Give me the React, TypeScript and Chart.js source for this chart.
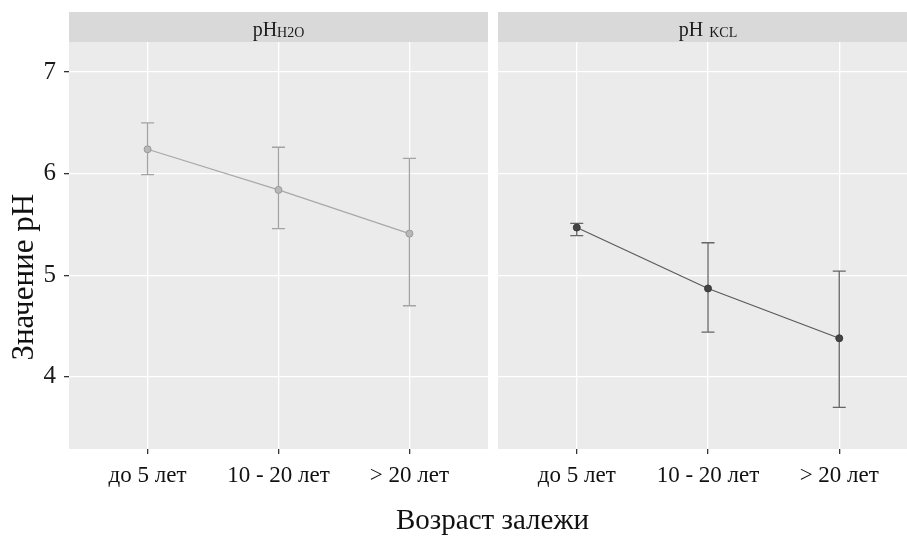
import React, { useEffect, useRef } from 'react';
import { Chart, registerables } from 'chart.js';

Chart.register(...registerables);

// ---- data ----
const categories = ['до 5 лет', '10 - 20 лет', '> 20 лет'];
const yTickValues = [4, 5, 6, 7];

const h2oMean = [6.24, 5.84, 5.41];
const h2oLower = [5.99, 5.46, 4.7];
const h2oUpper = [6.5, 6.26, 6.15];

const kclMean = [5.47, 4.87, 4.38];
const kclLower = [5.39, 4.44, 3.7];
const kclUpper = [5.51, 5.32, 5.04];

const yTitle = 'Значение pH';
const xTitle = 'Возраст залежи';
const h2oStripMain = 'pH';
const h2oStripSub = 'H2O';
const kclStripMain = 'pH';
const kclStripSub = 'KCL';

const SERIF = '"Liberation Serif", "Times New Roman", serif';

const panelPlugin = {
  id: 'panel',
  beforeDraw(chart: any, _args: any, opts: any) {
    const { ctx, chartArea: a } = chart;
    ctx.save();
    ctx.fillStyle = '#ebebeb';
    ctx.fillRect(a.left, a.top, a.right - a.left, a.bottom - a.top);
    // strip
    const sh = opts.stripHeight;
    ctx.fillStyle = '#d9d9d9';
    ctx.fillRect(a.left, a.top - sh, a.right - a.left, sh);
    ctx.fillStyle = '#1a1a1a';
    ctx.textBaseline = 'alphabetic';
    ctx.textAlign = 'left';
    ctx.font = `20px ${SERIF}`;
    const w1 = ctx.measureText(opts.main).width;
    ctx.font = `14px ${SERIF}`;
    const w2 = ctx.measureText(opts.sub).width;
    const total = w1 + opts.gap + w2;
    const x0 = (a.left + a.right) / 2 - total / 2;
    const base = a.top - 6;
    ctx.font = `20px ${SERIF}`;
    ctx.fillText(opts.main, x0, base);
    ctx.font = `14px ${SERIF}`;
    ctx.fillText(opts.sub, x0 + w1 + opts.gap, base + 1);
    // y title
    if (opts.yTitle) {
      ctx.translate(33, a.top + (a.bottom - a.top) * 0.578);
      ctx.rotate(-Math.PI / 2);
      ctx.font = `31px ${SERIF}`;
      ctx.textAlign = 'center';
      ctx.textBaseline = 'alphabetic';
      ctx.fillStyle = '#111';
      ctx.fillText(opts.yTitle, 0, 0);
    }
    ctx.restore();
  },
  beforeDatasetsDraw(chart: any, _args: any, opts: any) {
    const { ctx } = chart;
    const xs = chart.scales.x;
    const ys = chart.scales.y;
    ctx.save();
    ctx.strokeStyle = opts.errColor;
    ctx.lineWidth = 1.3;
    opts.lower.forEach((lo: number, i: number) => {
      const x = xs.getPixelForValue(i);
      const yl = ys.getPixelForValue(lo);
      const yu = ys.getPixelForValue(opts.upper[i]);
      ctx.beginPath();
      ctx.moveTo(x, yl);
      ctx.lineTo(x, yu);
      ctx.moveTo(x - 6.5, yl);
      ctx.lineTo(x + 6.5, yl);
      ctx.moveTo(x - 6.5, yu);
      ctx.lineTo(x + 6.5, yu);
      ctx.stroke();
    });
    ctx.restore();
  },
};

function makeConfig(opts: {
  mean: number[];
  lower: number[];
  upper: number[];
  lineColor: string;
  pointFill: string;
  pointBorder: string;
  errColor: string;
  main: string;
  sub: string;
  gap: number;
  showY: boolean;
}): any {
  return {
    type: 'line',
    data: {
      datasets: [
        {
          data: opts.mean.map((v, i) => ({ x: i, y: v })),
          borderColor: opts.lineColor,
          borderWidth: 1.2,
          pointRadius: 3.5,
          pointBackgroundColor: opts.pointFill,
          pointBorderColor: opts.pointBorder,
          pointBorderWidth: 1,
          tension: 0,
          fill: false,
        },
      ],
    },
    plugins: [panelPlugin],
    options: {
      responsive: false,
      maintainAspectRatio: false,
      animation: false,
      devicePixelRatio: 1,
      events: [],
      layout: {
        padding: { top: 42, right: 5, left: opts.showY ? 0 : 5, bottom: 0 },
      },
      plugins: {
        legend: { display: false },
        tooltip: { enabled: false },
        panel: {
          stripHeight: 30,
          main: opts.main,
          sub: opts.sub,
          gap: opts.gap,
          yTitle: opts.showY ? yTitle : null,
          lower: opts.lower,
          upper: opts.upper,
          errColor: opts.errColor,
        },
      },
      scales: {
        x: {
          type: 'linear',
          min: -0.6,
          max: 2.6,
          afterBuildTicks: (s: any) => {
            s.ticks = categories.map((_, i) => ({ value: i }));
          },
          afterFit: (s: any) => {
            s.height = 87;
          },
          ticks: {
            callback: (v: any) => categories[v],
            font: { family: SERIF, size: 23 },
            color: '#111',
            padding: 8,
            autoSkip: false,
            maxRotation: 0,
          },
          grid: {
            color: '#ffffff',
            lineWidth: 1.3,
            tickColor: '#333',
            tickLength: 5,
          },
          border: { display: false },
        },
        y: {
          type: 'linear',
          min: 3.29,
          max: 7.296,
          afterBuildTicks: (s: any) => {
            s.ticks = yTickValues.map((v) => ({ value: v }));
          },
          afterFit: (s: any) => {
            s.width = opts.showY ? 69 : 0;
          },
          ticks: {
            display: opts.showY,
            font: { family: SERIF, size: 25 },
            color: '#1a1a1a',
            padding: 8,
          },
          grid: {
            color: '#ffffff',
            lineWidth: 1.3,
            tickColor: '#333',
            tickLength: 5,
            drawTicks: opts.showY,
          },
          border: { display: false },
        },
      },
    },
  };
}

function Panel(props: { cfg: any; width: number; height: number }) {
  const ref = useRef<HTMLCanvasElement>(null);
  useEffect(() => {
    if (!ref.current) return;
    const chart = new Chart(ref.current, props.cfg);
    return () => chart.destroy();
  }, []);
  return <canvas ref={ref} width={props.width} height={props.height} style={{ display: 'block' }} />;
}

export default function App() {
  const leftCfg = makeConfig({
    mean: h2oMean,
    lower: h2oLower,
    upper: h2oUpper,
    lineColor: '#a8a8a8',
    pointFill: '#b8b8b8',
    pointBorder: '#9a9a9a',
    errColor: '#a3a3a3',
    main: h2oStripMain,
    sub: h2oStripSub,
    gap: 0,
    showY: true,
  });
  const rightCfg = makeConfig({
    mean: kclMean,
    lower: kclLower,
    upper: kclUpper,
    lineColor: '#5a5a5a',
    pointFill: '#444444',
    pointBorder: '#3a3a3a',
    errColor: '#666666',
    main: kclStripMain,
    sub: kclStripSub,
    gap: 6,
    showY: false,
  });
  return (
    <div
      style={{
        position: 'absolute',
        left: 0,
        top: 0,
        width: 907,
        height: 536,
        overflow: 'hidden',
        background: '#ffffff',
      }}
    >
      <div style={{ position: 'absolute', left: 0, top: 0 }}>
        <Panel cfg={leftCfg} width={493} height={536} />
      </div>
      <div style={{ position: 'absolute', left: 493, top: 0 }}>
        <Panel cfg={rightCfg} width={430} height={536} />
      </div>
      <div
        style={{
          position: 'absolute',
          left: 0,
          top: 505,
          width: 985,
          textAlign: 'center',
          fontFamily: SERIF,
          fontSize: 29,
          lineHeight: '29px',
          color: '#111',
          whiteSpace: 'nowrap',
        }}
      >
        {xTitle}
      </div>
    </div>
  );
}
